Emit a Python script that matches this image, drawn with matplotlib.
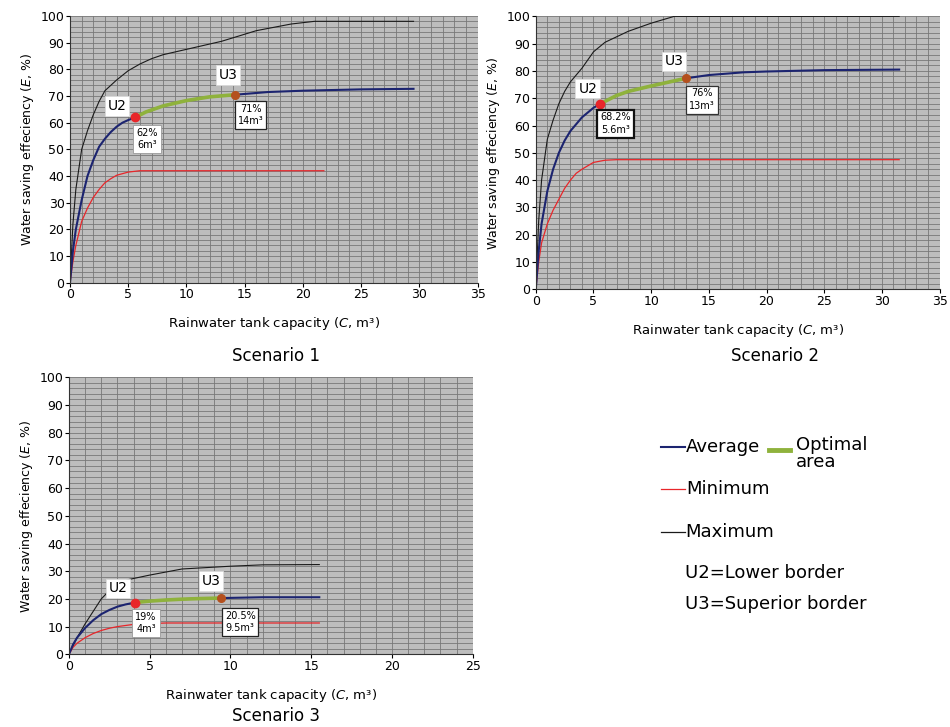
import matplotlib
matplotlib.use('Agg')
import matplotlib.pyplot as plt
from matplotlib.ticker import MultipleLocator

plt.rcParams['font.family'] = ['DejaVu Sans']
plt.rcParams['mathtext.fontset'] = 'dejavusans'

# Scenario 1
avg1_x = [0, 0.25, 0.5, 1, 1.5, 2, 2.5, 3, 3.5, 4, 4.5, 5, 5.6, 6.5, 8, 10, 12, 14.2, 17, 20, 25, 29.5]
avg1_y = [0, 12, 20, 31, 40, 46, 51, 54, 56.5, 58.5, 60, 61, 62, 64, 66.3, 68.3, 69.7, 70.5, 71.5, 72, 72.5, 72.7]
max1_x = [0, 0.25, 0.5, 1, 1.5, 2, 2.5, 3, 4, 5, 6, 7, 8, 10, 13, 16, 19, 21, 29.5]
max1_y = [0, 22, 35, 50, 57, 63, 68, 72, 76, 79.5, 82, 84, 85.5, 87.5, 90.5, 94.5, 97, 98, 98]
min1_x = [0, 0.25, 0.5, 1, 1.5, 2, 2.5, 3, 3.5, 4, 5, 6, 21.8]
min1_y = [0, 8, 14, 23, 28, 32, 35, 37.5, 39, 40.3, 41.5, 42, 42]
u1 = [(5.6, 62), (14.2, 70.5)]
lab1 = ['62%\n6m³', '71%\n14m³']

# Scenario 2
avg2_x = [0, 0.25, 0.5, 1, 1.5, 2, 2.5, 3, 4, 5, 5.6, 7, 8, 10, 13, 15, 18, 20, 25, 31.5]
avg2_y = [0, 14, 24, 36, 44, 50, 54.5, 58, 63, 66.5, 68, 71, 72.5, 74.5, 77.3, 78.5, 79.5, 79.8, 80.3, 80.5]
max2_x = [0, 0.25, 0.5, 1, 1.5, 2, 2.5, 3, 4, 5, 6, 8, 10, 12, 31.5]
max2_y = [0, 25, 40, 55, 62, 68, 72.5, 76, 81, 87, 90.5, 94.5, 97.5, 100, 100]
min2_x = [0, 0.25, 0.5, 1, 1.5, 2, 2.5, 3, 3.5, 4, 5, 6, 7, 31.5]
min2_y = [0, 10, 17, 24, 29, 33, 37, 40, 42.5, 44, 46.5, 47.3, 47.5, 47.5]
u2 = [(5.6, 68), (13, 77.3)]
lab2 = ['68.2%\n5.6m³', '76%\n13m³']

# Scenario 3
avg3_x = [0, 0.25, 0.5, 1, 1.5, 2, 2.5, 3, 3.5, 4.1, 5, 6, 7, 8, 9.4, 12, 15.5]
avg3_y = [0, 3.5, 6, 9.5, 12.3, 14.5, 16, 17.2, 18, 18.7, 19.2, 19.6, 19.9, 20.1, 20.3, 20.6, 20.6]
max3_x = [0, 0.5, 1, 1.5, 2, 2.5, 3, 3.7, 5, 7, 10, 12, 15.5]
max3_y = [0, 6, 11, 15.5, 20, 23, 25.5, 27, 28.6, 30.8, 31.8, 32.3, 32.4]
min3_x = [0, 0.25, 0.5, 1, 1.5, 2, 2.5, 3, 4, 5, 6, 15.5]
min3_y = [0, 2.5, 4, 6, 7.5, 8.6, 9.4, 10, 10.8, 11.1, 11.3, 11.3]
u3 = [(4.1, 18.7), (9.4, 20.3)]
lab3 = ['19%\n4m³', '20.5%\n9.5m³']

NAVY = '#1c2470'
RED = '#e8262a'
GREEN = '#8fb23c'
BG = '#bdbdbd'

fig = plt.figure(figsize=(9.5, 7.27), dpi=100)


def panel(rect, xmax, avg_x, avg_y, max_x, max_y, min_x, min_y, u, labs,
          u_pos, lab_pos, lab_edge, title, title_xy):
    ax = fig.add_axes(rect)
    ax.set_facecolor(BG)
    ax.set_xlim(0, xmax)
    ax.set_ylim(0, 100)
    ax.xaxis.set_major_locator(MultipleLocator(5))
    ax.xaxis.set_minor_locator(MultipleLocator(1))
    ax.yaxis.set_major_locator(MultipleLocator(10))
    ax.yaxis.set_minor_locator(MultipleLocator(2))
    ax.grid(which='both', color='#787878', lw=0.6)
    ax.set_axisbelow(True)
    for s in ['top', 'right']:
        ax.spines[s].set_visible(False)
    for s in ['left', 'bottom']:
        ax.spines[s].set_color('#333333')
    ax.tick_params(which='major', labelsize=9, length=3, pad=1)
    ax.tick_params(which='minor', length=0)

    ax.plot(max_x, max_y, color='#1a1a1a', lw=0.8)
    ax.plot(min_x, min_y, color=RED, lw=0.9)
    ax.plot(avg_x, avg_y, color=NAVY, lw=1.5)
    opt = [(x, y) for x, y in zip(avg_x, avg_y) if u[0][0] <= x <= u[1][0]]
    ax.plot([p[0] for p in opt], [p[1] for p in opt], color=GREEN, lw=2.6,
            solid_capstyle='butt')
    ax.plot(*u[0], 'o', color=RED, ms=6, zorder=5)
    ax.plot(*u[1], 'o', color='#b4501e', ms=5.5, zorder=5)

    for name, (x, y) in zip(['U2', 'U3'], u_pos):
        ax.text(x, y, name, fontsize=10, ha='center', va='center',
                bbox=dict(facecolor='white', edgecolor='#dddddd', lw=0.6,
                          boxstyle='square,pad=0.2'), zorder=6)
    for t, (x, y), (ec, lw) in zip(labs, lab_pos, lab_edge):
        ax.text(x, y, t, fontsize=7, ha='center', va='center', linespacing=1.3,
                bbox=dict(facecolor='white', edgecolor=ec, lw=lw,
                          boxstyle='square,pad=0.3'), zorder=6)

    ax.set_xlabel('Rainwater tank capacity ($\\it{C}$, m³)', fontsize=9.5, labelpad=10)
    ax.set_ylabel('Water saving effeciency ($\\it{E}$, %)', fontsize=9, labelpad=3)
    fig.text(title_xy[0], title_xy[1], title, fontsize=12, ha='center', va='center')
    return ax


panel([0.0737, 0.611, 0.429, 0.367], 35, avg1_x, avg1_y, max1_x, max1_y, min1_x, min1_y,
      u1, lab1, [(4.03, 66.3), (13.55, 77.9)], [(6.6, 54), (15.5, 63)],
      [('#999999', 0.6), ('#222222', 0.9)], 'Scenario 1', (0.29, 0.511))
panel([0.564, 0.602, 0.425, 0.3755], 35, avg2_x, avg2_y, max2_x, max2_y, min2_x, min2_y,
      u2, lab2, [(4.5, 73.5), (12.0, 83.5)], [(6.9, 60.7), (14.4, 69.5)],
      [('#111111', 1.6), ('#333333', 0.9)], 'Scenario 2', (0.816, 0.511))
panel([0.0726, 0.100, 0.425, 0.381], 25, avg3_x, avg3_y, max3_x, max3_y, min3_x, min3_y,
      u3, lab3, [(3.03, 23.8), (8.8, 26.4)], [(4.77, 11.2), (10.6, 11.6)],
      [('#999999', 0.6), ('#222222', 0.9)], 'Scenario 3', (0.29, 0.015))

# legend drawn as free text
fs = 13
fig.add_artist(plt.Line2D([0.696, 0.721], [0.385, 0.385], color=NAVY, lw=1.5))
fig.text(0.722, 0.385, 'Average', fontsize=fs, va='center')
fig.add_artist(plt.Line2D([0.809, 0.832], [0.381, 0.381], color=GREEN, lw=3.5))
fig.text(0.838, 0.376, 'Optimal\narea', fontsize=fs, va='center', linespacing=0.9)
fig.add_artist(plt.Line2D([0.696, 0.721], [0.327, 0.327], color=RED, lw=0.9))
fig.text(0.722, 0.327, 'Minimum', fontsize=fs, va='center')
fig.add_artist(plt.Line2D([0.696, 0.721], [0.268, 0.268], color='#1a1a1a', lw=0.9))
fig.text(0.721, 0.268, 'Maximum', fontsize=fs, va='center')
fig.text(0.721, 0.212, 'U2=Lower border', fontsize=fs, va='center')
fig.text(0.721, 0.169, 'U3=Superior border', fontsize=fs, va='center')

fig.savefig('out.png', dpi=100)
